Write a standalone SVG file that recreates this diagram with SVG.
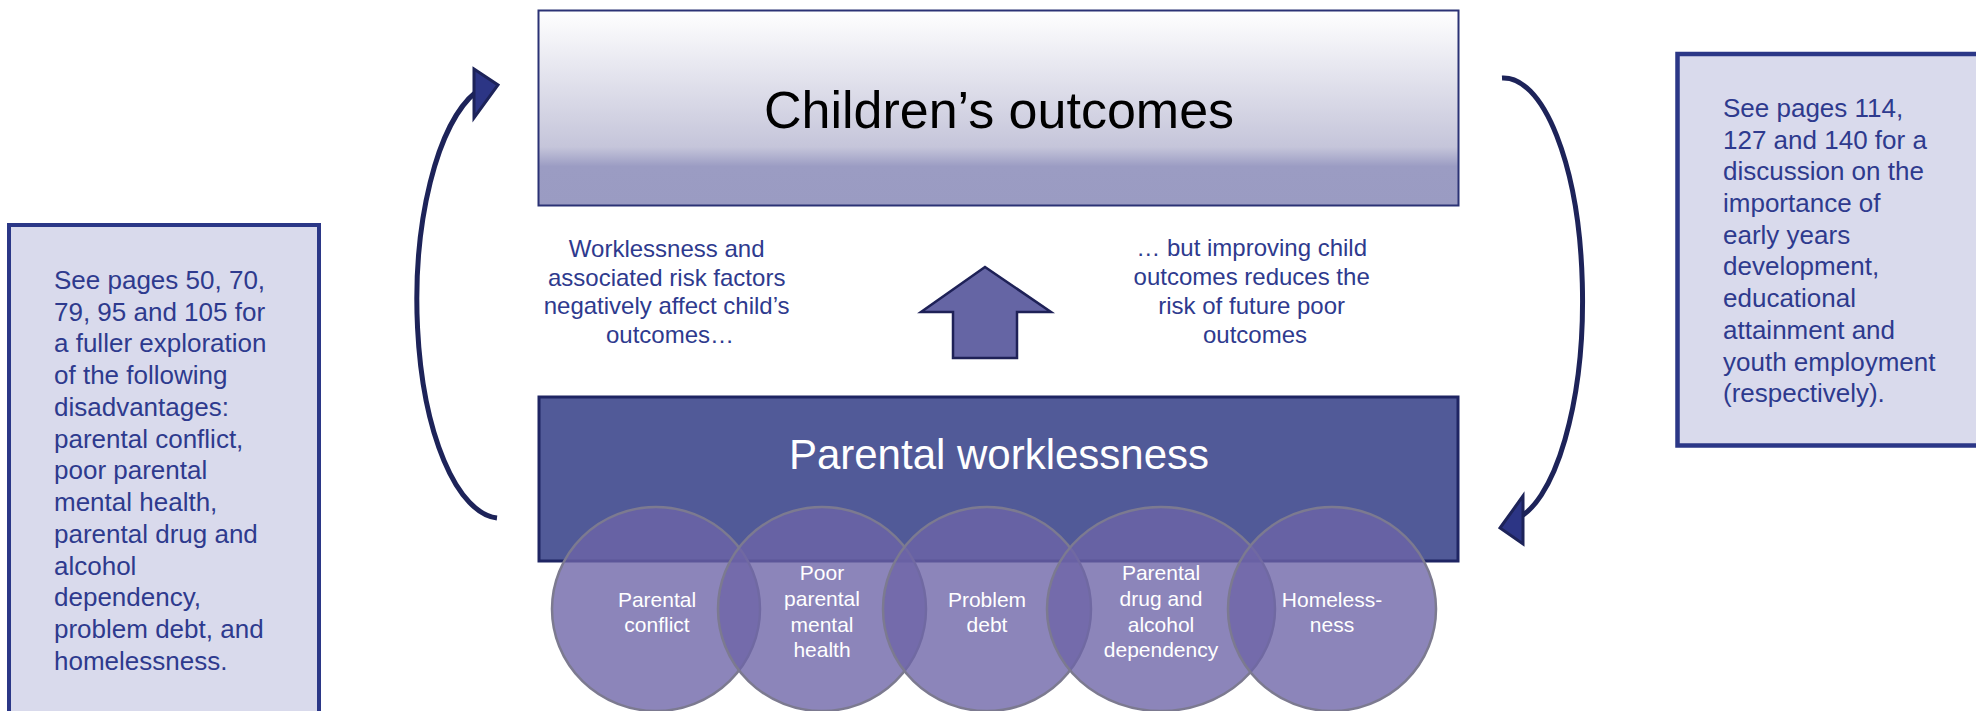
<svg xmlns="http://www.w3.org/2000/svg" width="1976" height="711" viewBox="0 0 1976 711">
<defs>
<linearGradient id="topGrad" x1="0" y1="0" x2="0" y2="1">
<stop offset="0" stop-color="#ffffff"/>
<stop offset="0.7" stop-color="#c5c5da"/>
<stop offset="0.8" stop-color="#9b9cc3"/>
<stop offset="1" stop-color="#9a9bc2"/>
</linearGradient>
<style>
.side{fill:#d9daec;stroke:#2b3787;}
.sidetxt{font-family:"Liberation Sans",Arial,sans-serif;font-size:26px;fill:#2e3a8e;}
.mid{font-family:"Liberation Sans",Arial,sans-serif;font-size:24px;fill:#2e3a8e;text-anchor:middle;}
.circ{fill:#6d64a7;fill-opacity:0.79;stroke:#7c7a90;stroke-width:2.5;}
.ctxt{font-family:"Liberation Sans",Arial,sans-serif;font-size:21px;fill:#ffffff;text-anchor:middle;}
.curve{fill:none;stroke:#1d2359;stroke-width:5;}
.head{fill:#2c3585;stroke:#1d2359;stroke-width:3;stroke-linejoin:miter;}
</style>
</defs>
<rect width="1976" height="711" fill="#ffffff"/>

<g id="left-note">
<rect class="side" x="9" y="225" width="310" height="600" stroke-width="4"/>
<text class="sidetxt">
<tspan x="54" y="289">See pages 50, 70,</tspan>
<tspan x="54" y="321">79, 95 and 105 for</tspan>
<tspan x="54" y="352">a fuller exploration</tspan>
<tspan x="54" y="384">of the following</tspan>
<tspan x="54" y="416">disadvantages:</tspan>
<tspan x="54" y="448">parental conflict,</tspan>
<tspan x="54" y="479">poor parental</tspan>
<tspan x="54" y="511">mental health,</tspan>
<tspan x="54" y="543">parental drug and</tspan>
<tspan x="54" y="575">alcohol</tspan>
<tspan x="54" y="606">dependency,</tspan>
<tspan x="54" y="638">problem debt, and</tspan>
<tspan x="54" y="670">homelessness.</tspan>
</text>
</g>

<g id="right-note">
<rect class="side" x="1677.5" y="54" width="400" height="391.5" stroke-width="4.5"/>
<text class="sidetxt">
<tspan x="1723" y="117">See pages 114,</tspan>
<tspan x="1723" y="149">127 and 140 for a</tspan>
<tspan x="1723" y="180">discussion on the</tspan>
<tspan x="1723" y="212">importance of</tspan>
<tspan x="1723" y="244">early years</tspan>
<tspan x="1723" y="275">development,</tspan>
<tspan x="1723" y="307">educational</tspan>
<tspan x="1723" y="339">attainment and</tspan>
<tspan x="1723" y="371">youth employment</tspan>
<tspan x="1723" y="402">(respectively).</tspan>
</text>
</g>

<g id="childrens-outcomes">
<rect x="538.5" y="10.5" width="920" height="195" fill="url(#topGrad)" stroke="#2b3275" stroke-width="2"/>
<text x="999" y="128" font-family="'Liberation Sans',Arial,sans-serif" font-size="52" fill="#000000" text-anchor="middle">Children’s outcomes</text>
</g>

<g id="left-caption">
<text class="mid">
<tspan x="670" y="257">Worklessness and</tspan>
<tspan x="670" y="286">associated risk factors</tspan>
<tspan x="670" y="314">negatively affect child’s</tspan>
<tspan x="670" y="343">outcomes…</tspan>
</text>
</g>

<g id="right-caption">
<text class="mid">
<tspan x="1255" y="256">… but improving child</tspan>
<tspan x="1255" y="285">outcomes reduces the</tspan>
<tspan x="1255" y="314">risk of future poor</tspan>
<tspan x="1255" y="343">outcomes</tspan>
</text>
</g>

<g id="up-arrow">
<polygon points="985,267 1051,312 1017,312 1017,358 953,358 953,312 921,312" fill="#6565a4" stroke="#1e2157" stroke-width="2.5" stroke-linejoin="miter"/>
</g>

<g id="parental-worklessness">
<rect x="539" y="397" width="919" height="164" fill="#515a98" stroke="#1f2563" stroke-width="3"/>
<text x="999" y="469" font-family="'Liberation Sans',Arial,sans-serif" font-size="42" fill="#ffffff" text-anchor="middle">Parental worklessness</text>
</g>

<g id="risk-factors">
<g id="rf-conflict">
<ellipse class="circ" cx="656" cy="609" rx="104" ry="102"/>
</g>
<g id="rf-mental-health">
<ellipse class="circ" cx="822" cy="609" rx="104" ry="102"/>
</g>
<g id="rf-debt">
<ellipse class="circ" cx="987" cy="609" rx="104" ry="102"/>
</g>
<g id="rf-drug-alcohol">
<ellipse class="circ" cx="1161" cy="609" rx="114" ry="102"/>
</g>
<g id="rf-homelessness">
<ellipse class="circ" cx="1332" cy="609" rx="104" ry="102"/>
</g>
<text class="ctxt"><tspan x="657" y="607">Parental</tspan><tspan x="657" y="632">conflict</tspan></text>
<text class="ctxt"><tspan x="822" y="580">Poor</tspan><tspan x="822" y="606">parental</tspan><tspan x="822" y="632">mental</tspan><tspan x="822" y="657">health</tspan></text>
<text class="ctxt"><tspan x="987" y="607">Problem</tspan><tspan x="987" y="632">debt</tspan></text>
<text class="ctxt"><tspan x="1161" y="580">Parental</tspan><tspan x="1161" y="606">drug and</tspan><tspan x="1161" y="632">alcohol</tspan><tspan x="1161" y="657">dependency</tspan></text>
<text class="ctxt"><tspan x="1332" y="607">Homeless-</tspan><tspan x="1332" y="632">ness</tspan></text>
</g>

<g id="connectors">
<path class="curve" d="M 497 518 A 84 218 0 0 1 476 92"/>
<polygon class="head" points="474,69 498,85 474,118"/>
<path class="curve" d="M 1502 78 A 79 222 0 0 1 1514 520"/>
<polygon class="head" points="1523,496 1500,528 1523,544"/>
</g>
</svg>
